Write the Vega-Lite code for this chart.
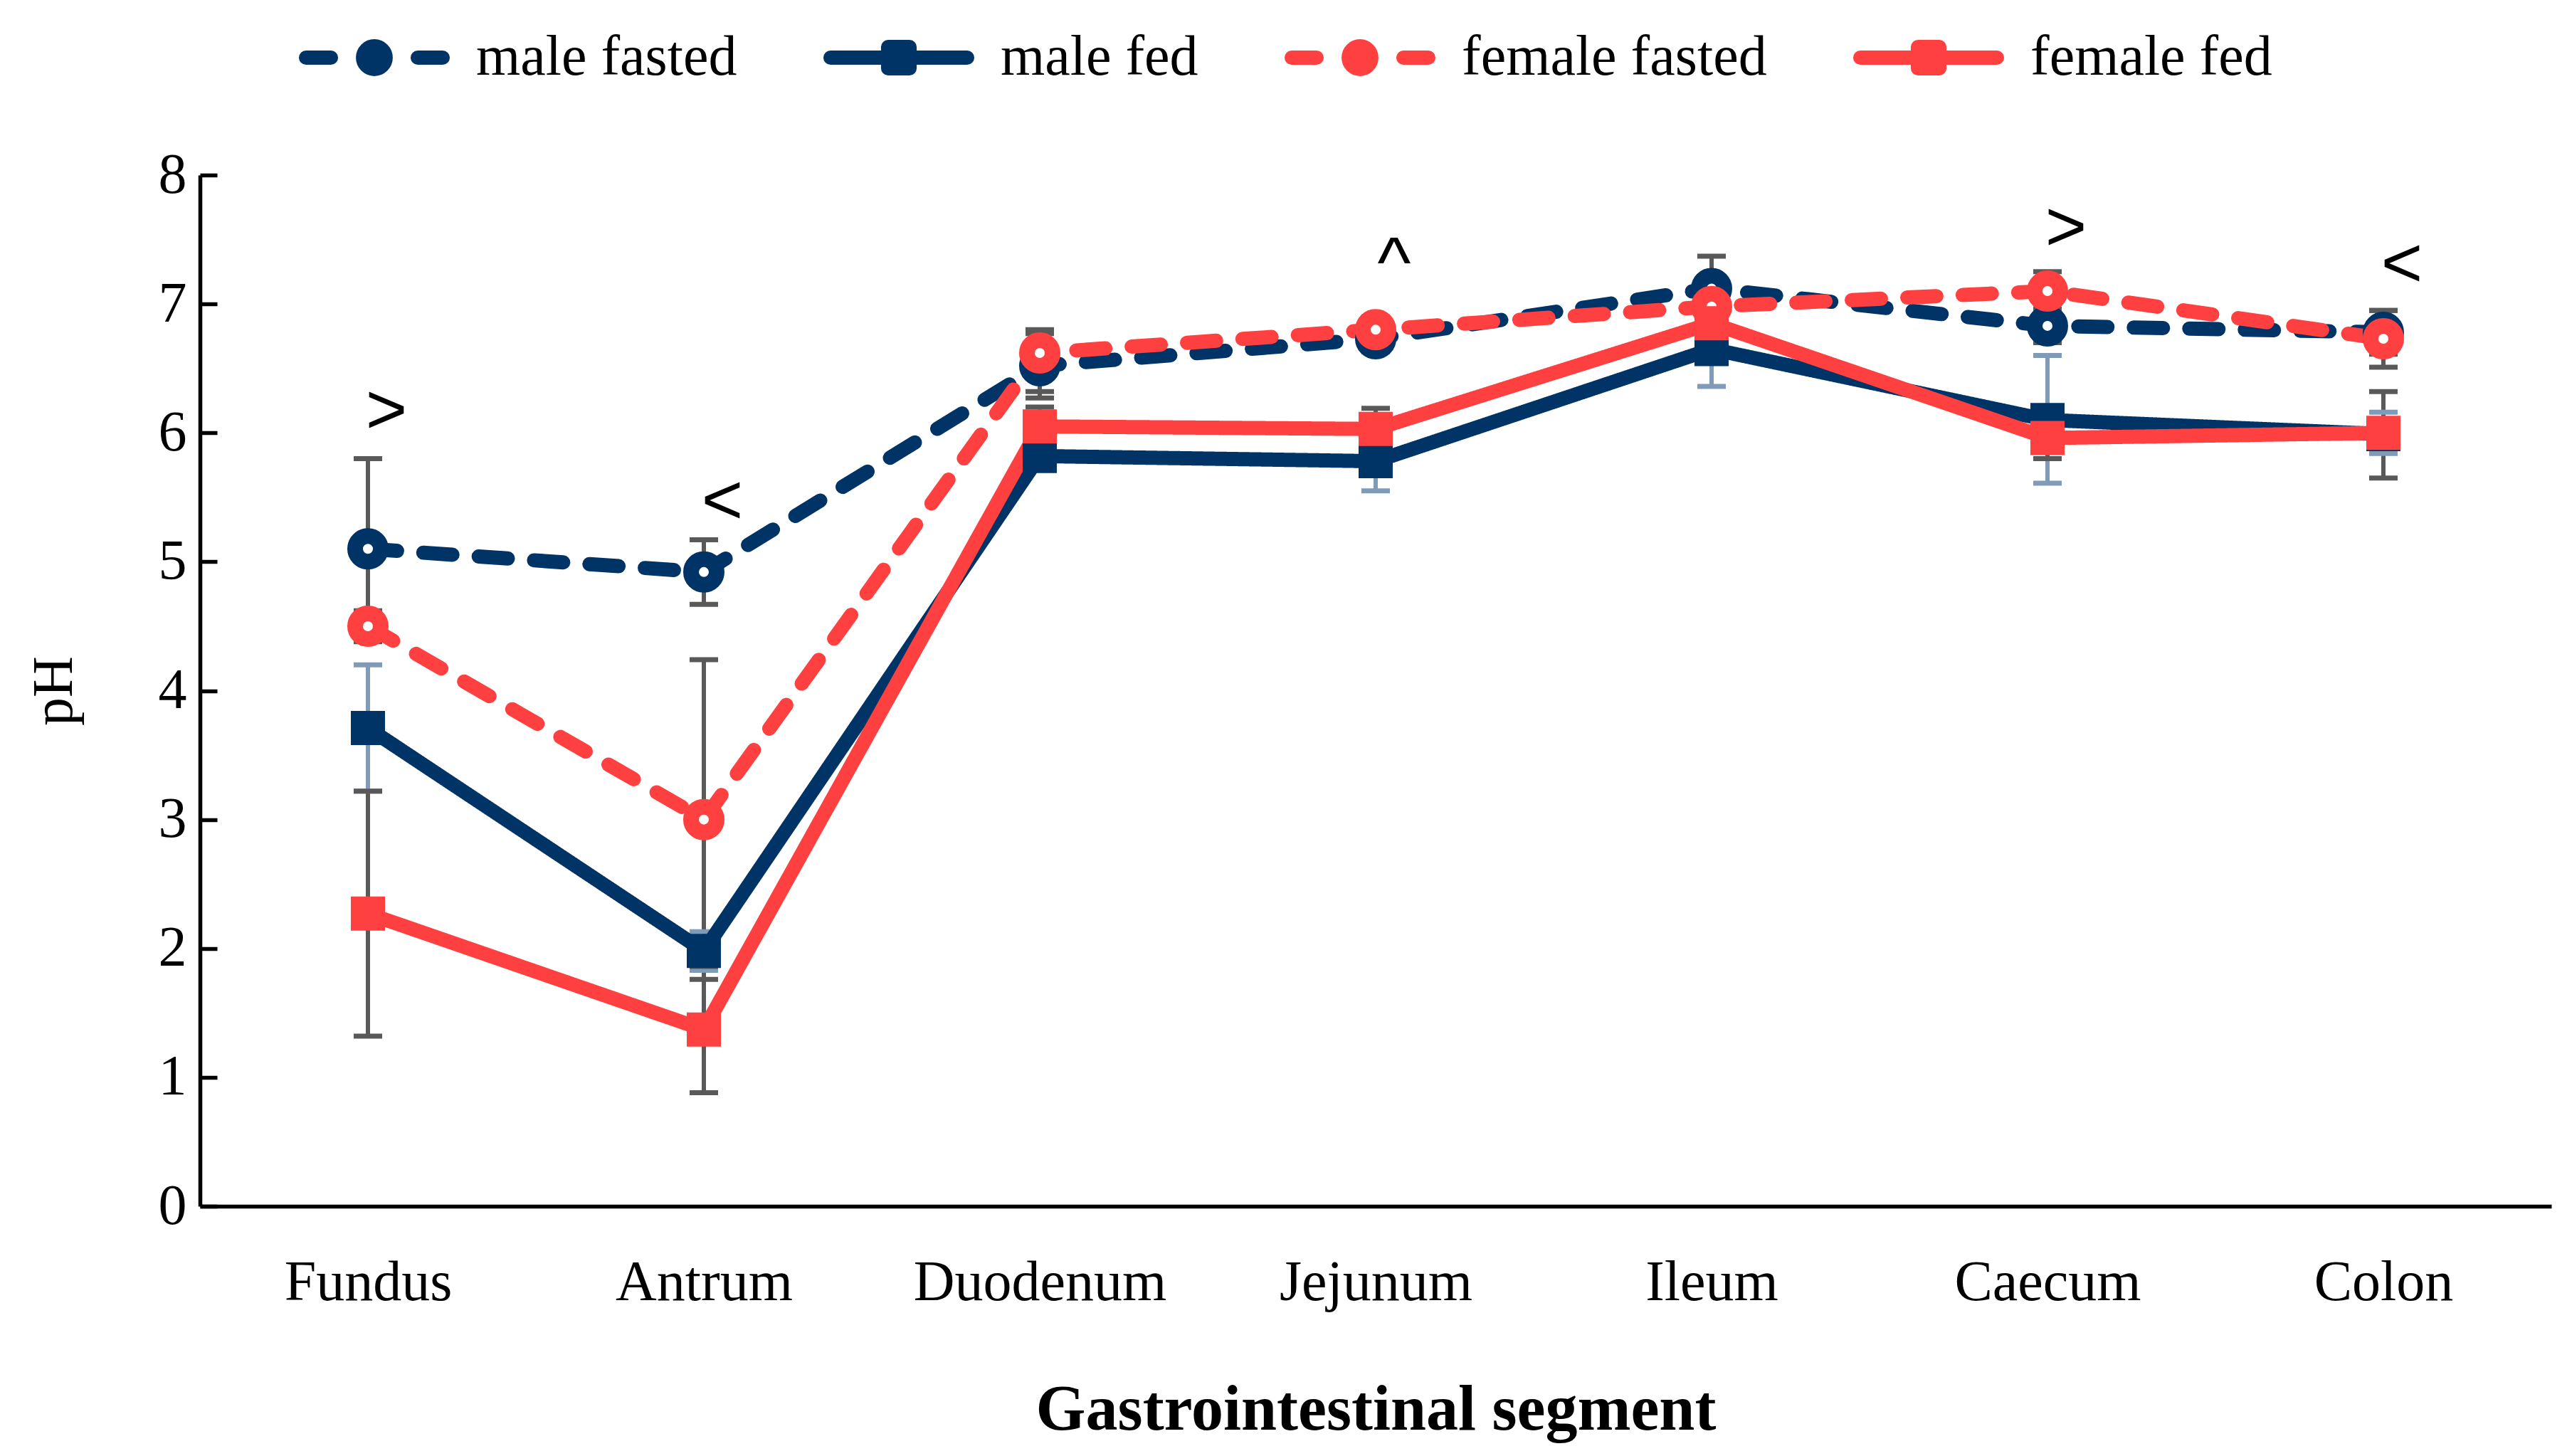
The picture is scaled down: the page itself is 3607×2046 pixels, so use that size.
{
  "$schema": "https://vega.github.io/schema/vega-lite/v6.json",
  "width": 3304,
  "height": 1449,
  "autosize": {"type": "none"},
  "padding": {"left": 281, "top": 246, "right": 22, "bottom": 351},
  "background": "white",
  "config": {"view": {"stroke": null}, "font": "Liberation Serif"},
  "datasets": {
    "means": [
      {"segment": "Fundus", "series": "male fasted", "state": "fasted", "mean": 5.10, "lo": 4.40, "hi": 5.80},
      {"segment": "Antrum", "series": "male fasted", "state": "fasted", "mean": 4.92, "lo": 4.67, "hi": 5.17},
      {"segment": "Duodenum", "series": "male fasted", "state": "fasted", "mean": 6.52, "lo": 6.27, "hi": 6.77},
      {"segment": "Jejunum", "series": "male fasted", "state": "fasted", "mean": 6.73, "lo": 6.63, "hi": 6.83},
      {"segment": "Ileum", "series": "male fasted", "state": "fasted", "mean": 7.12, "lo": 6.87, "hi": 7.37},
      {"segment": "Caecum", "series": "male fasted", "state": "fasted", "mean": 6.83, "lo": 6.70, "hi": 6.96},
      {"segment": "Colon", "series": "male fasted", "state": "fasted", "mean": 6.78, "lo": 6.61, "hi": 6.95},
      {"segment": "Fundus", "series": "male fed", "state": "fed", "mean": 3.71, "lo": 3.22, "hi": 4.20},
      {"segment": "Antrum", "series": "male fed", "state": "fed", "mean": 1.98, "lo": 1.83, "hi": 2.13},
      {"segment": "Duodenum", "series": "male fed", "state": "fed", "mean": 5.82, "lo": 5.72, "hi": 5.92},
      {"segment": "Jejunum", "series": "male fed", "state": "fed", "mean": 5.78, "lo": 5.55, "hi": 6.01},
      {"segment": "Ileum", "series": "male fed", "state": "fed", "mean": 6.65, "lo": 6.36, "hi": 6.94},
      {"segment": "Caecum", "series": "male fed", "state": "fed", "mean": 6.10, "lo": 5.61, "hi": 6.60},
      {"segment": "Colon", "series": "male fed", "state": "fed", "mean": 5.99, "lo": 5.84, "hi": 6.16},
      {"segment": "Fundus", "series": "female fasted", "state": "fasted", "mean": 4.50, "lo": 4.38, "hi": 4.62},
      {"segment": "Antrum", "series": "female fasted", "state": "fasted", "mean": 3.00, "lo": 1.76, "hi": 4.24},
      {"segment": "Duodenum", "series": "female fasted", "state": "fasted", "mean": 6.62, "lo": 6.32, "hi": 6.80},
      {"segment": "Jejunum", "series": "female fasted", "state": "fasted", "mean": 6.80, "lo": 6.70, "hi": 6.90},
      {"segment": "Ileum", "series": "female fasted", "state": "fasted", "mean": 6.98, "lo": 6.88, "hi": 7.08},
      {"segment": "Caecum", "series": "female fasted", "state": "fasted", "mean": 7.10, "lo": 6.95, "hi": 7.25},
      {"segment": "Colon", "series": "female fasted", "state": "fasted", "mean": 6.73, "lo": 6.51, "hi": 6.95},
      {"segment": "Fundus", "series": "female fed", "state": "fed", "mean": 2.27, "lo": 1.32, "hi": 3.22},
      {"segment": "Antrum", "series": "female fed", "state": "fed", "mean": 1.37, "lo": 0.88, "hi": 1.86},
      {"segment": "Duodenum", "series": "female fed", "state": "fed", "mean": 6.05, "lo": 5.90, "hi": 6.20},
      {"segment": "Jejunum", "series": "female fed", "state": "fed", "mean": 6.03, "lo": 5.87, "hi": 6.19},
      {"segment": "Ileum", "series": "female fed", "state": "fed", "mean": 6.85, "lo": 6.70, "hi": 7.00},
      {"segment": "Caecum", "series": "female fed", "state": "fed", "mean": 5.96, "lo": 5.80, "hi": 6.12},
      {"segment": "Colon", "series": "female fed", "state": "fed", "mean": 6.00, "lo": 5.65, "hi": 6.32}
    ],
    "notes": [
      {"segment": "Fundus", "label": ">", "pos": 6.16},
      {"segment": "Antrum", "label": "<", "pos": 5.46},
      {"segment": "Jejunum", "label": "^", "pos": 7.30},
      {"segment": "Caecum", "label": ">", "pos": 7.58},
      {"segment": "Colon", "label": "<", "pos": 7.30}
    ]
  },
  "encoding": {
    "x": {
      "field": "segment",
      "type": "ordinal",
      "sort": ["Fundus", "Antrum", "Duodenum", "Jejunum", "Ileum", "Caecum", "Colon"],
      "scale": {"type": "point", "padding": 0.5},
      "axis": {
        "title": "Gastrointestinal segment",
        "ticks": false,
        "grid": false,
        "domainColor": "black",
        "domainWidth": 5.5,
        "labelAngle": 0,
        "labelLimit": 0,
        "labelFont": "Liberation Serif",
        "labelFontSize": 80,
        "labelColor": "black",
        "labelPadding": 68,
        "titleFont": "Liberation Serif",
        "titleFontSize": 90,
        "titleFontWeight": "bold",
        "titleColor": "black",
        "titlePadding": 95
      }
    }
  },
  "layer": [
    {
      "data": {"name": "means"},
      "mark": {"type": "rule", "strokeWidth": 6},
      "encoding": {
        "y": {
          "field": "lo",
          "type": "quantitative",
          "title": "pH",
          "scale": {"domain": [0, 8], "nice": false},
          "axis": {
            "values": [0, 1, 2, 3, 4, 5, 6, 7, 8],
            "format": "d",
            "grid": false,
            "domainColor": "black",
            "domainWidth": 5.5,
            "tickColor": "black",
            "tickWidth": 5.5,
            "tickSize": -24,
            "labelFont": "Liberation Serif",
            "labelFontSize": 80,
            "labelColor": "black",
            "labelPadding": 43,
            "titleFont": "Liberation Serif",
            "titleFontSize": 80,
            "titleFontWeight": "normal",
            "titleColor": "black",
            "titlePadding": 105
          }
        },
        "y2": {"field": "hi"},
        "color": {"condition": {"test": "datum.series === 'male fed'", "value": "#809BB8"}, "value": "#595959"}
      }
    },
    {
      "data": {"name": "means"},
      "mark": {"type": "tick", "orient": "horizontal", "size": 40, "thickness": 7, "opacity": 1},
      "encoding": {
        "y": {"field": "lo", "type": "quantitative", "title": "pH"},
        "color": {"condition": {"test": "datum.series === 'male fed'", "value": "#809BB8"}, "value": "#595959"}
      }
    },
    {
      "data": {"name": "means"},
      "mark": {"type": "tick", "orient": "horizontal", "size": 40, "thickness": 7, "opacity": 1},
      "encoding": {
        "y": {"field": "hi", "type": "quantitative", "title": "pH"},
        "color": {"condition": {"test": "datum.series === 'male fed'", "value": "#809BB8"}, "value": "#595959"}
      }
    },
    {
      "data": {"name": "means"},
      "mark": {"type": "line", "strokeWidth": 20, "strokeCap": "round", "strokeJoin": "round"},
      "encoding": {
        "y": {"field": "mean", "type": "quantitative", "title": "pH"},
        "color": {
          "field": "series",
          "type": "nominal",
          "scale": {
            "domain": ["male fasted", "male fed", "female fasted", "female fed"],
            "range": ["#003366", "#003366", "#FF4040", "#FF4040"]
          },
          "legend": {
            "title": null,
            "orient": "none",
            "direction": "horizontal",
            "legendX": 129,
            "legendY": -281,
            "padding": 0,
            "symbolSize": 44944,
            "symbolStrokeWidth": 20,
            "labelFont": "Liberation Serif",
            "labelFontSize": 80,
            "labelColor": "black",
            "labelOffset": 27,
            "labelLimit": 2000,
            "columnPadding": 111,
            "encode": {
              "symbols": {
                "update": {
                  "shape": {"signal": "indexof(datum.value, 'fasted') >= 0 ? 'M-0.906,0H-0.575M0.575,0H0.906M0.15,0A0.15,0.15,0,1,1,-0.15,0A0.15,0.15,0,1,1,0.15,0Z' : 'M-0.906,0H0.906M-0.142,-0.142H0.142V0.142H-0.142Z'"},
                  "fill": {"signal": "indexof(datum.value, 'fasted') >= 0 ? 'white' : scale('color', datum.value)"},
                  "stroke": {"signal": "scale('color', datum.value)"},
                  "strokeWidth": {"value": 20},
                  "strokeCap": {"value": "round"},
                  "strokeJoin": {"value": "round"},
                  "strokeDash": {"value": []},
                  "opacity": {"value": 1},
                  "fillOpacity": {"value": 1},
                  "strokeOpacity": {"value": 1}
                }
              }
            }
          }
        },
        "strokeDash": {
          "field": "state",
          "type": "nominal",
          "scale": {"domain": ["fasted", "fed"], "range": [[41, 37], [1, 0]]},
          "legend": null
        }
      }
    },
    {
      "data": {"name": "means"},
      "transform": [{"filter": "datum.state === 'fasted'"}],
      "mark": {"type": "point", "shape": "circle", "size": 1296, "strokeWidth": 22, "fill": "white", "filled": false, "opacity": 1},
      "encoding": {
        "y": {"field": "mean", "type": "quantitative", "title": "pH"},
        "color": {"field": "series", "type": "nominal"}
      }
    },
    {
      "data": {"name": "means"},
      "transform": [{"filter": "datum.state === 'fed'"}],
      "mark": {"type": "square", "size": 2304, "opacity": 1},
      "encoding": {
        "y": {"field": "mean", "type": "quantitative", "title": "pH"},
        "color": {"field": "series", "type": "nominal"}
      }
    },
    {
      "data": {"name": "notes"},
      "mark": {"type": "text", "font": "Liberation Sans", "fontSize": 100, "dx": 26, "baseline": "middle", "align": "center", "color": "black"},
      "encoding": {
        "y": {"field": "pos", "type": "quantitative", "title": "pH"},
        "text": {"field": "label", "type": "nominal"}
      }
    }
  ]
}
